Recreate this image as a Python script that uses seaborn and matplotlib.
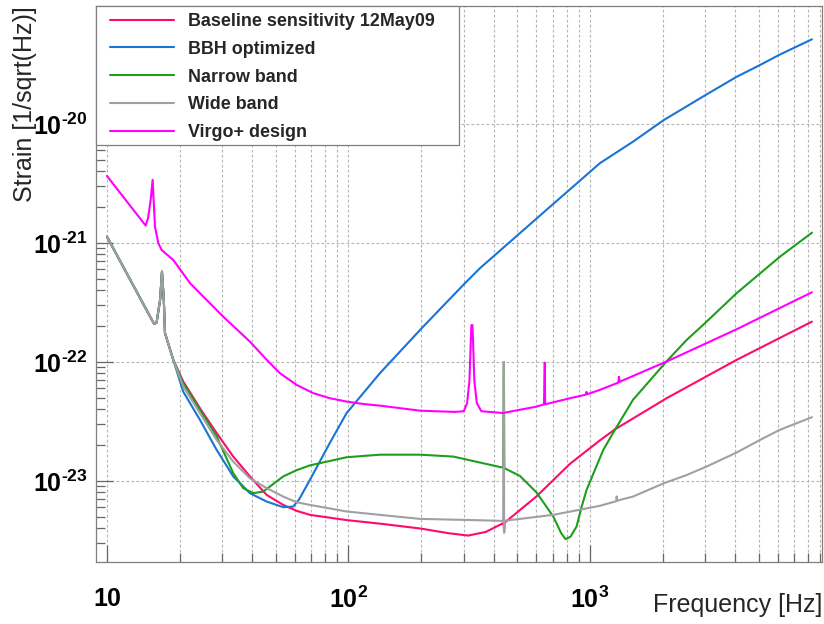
import math
import matplotlib
matplotlib.use("Agg")
import matplotlib.pyplot as plt
import pandas as pd
import seaborn as sns
from matplotlib.patches import Rectangle
from matplotlib.ticker import FixedLocator, NullFormatter, FuncFormatter

# Low-frequency seismic wall shared by the four measured configurations
wall_f = [10, 15.2, 15.7, 16.05, 16.6, 16.9, 17.2, 17.39, 18.82]
wall_h = [1.13e-21, 2.34e-22, 2.08e-22, 2.14e-22, 3.32e-22, 5.74e-22,
          3.32e-22, 1.75e-22, 1.04e-22]

baseline_f = [20.7, 24.27, 28.47, 33.34, 39.09, 45.85, 53.7, 61, 69.27, 98.3, 135,
              198, 260, 313, 370, 437, 439, 441, 443, 601, 826, 1099, 1269, 2075,
              4046, 8300]
baseline_h = [6.84e-23, 4.08e-23, 2.52e-23, 1.60e-23, 1.09e-23, 7.62e-24, 6.28e-24,
              5.6e-24, 5.18e-24, 4.68e-24, 4.37e-24, 3.98e-24, 3.63e-24, 3.47e-24,
              3.72e-24, 4.41e-24, 4.42e-24, 3.7e-24, 4.45e-24, 7.41e-24, 1.39e-23,
              2.19e-23, 2.71e-23, 4.95e-23, 1.04e-22, 2.18e-22]

bbh_f = [20.7, 24.27, 28.47, 33.34, 39.09, 45.85, 53.7, 59.07, 62.5, 69.27, 83.8,
         98.3, 135, 201, 299, 350, 621, 1099, 1507, 2023, 3051, 4046, 5058, 6062, 8300]
bbh_h = [5.62e-23, 3.26e-23, 1.82e-23, 1.09e-23, 7.88e-24, 6.70e-24, 6.01e-24,
         6.08e-24, 7.0e-24, 1.02e-23, 2.09e-23, 3.72e-23, 8.04e-23, 1.92e-22,
         4.44e-22, 6.12e-22, 1.70e-21, 4.68e-21, 7.10e-21, 1.08e-20, 1.78e-20,
         2.49e-20, 3.13e-20, 3.80e-20, 5.15e-20]

narrow_f = [20.7, 24.27, 28.47, 33.34, 36.68, 40.35, 44.38, 53.7, 61, 69.27, 98.3,
            135, 198, 272, 437, 440, 442, 513, 601, 705, 760, 792, 830, 880, 920,
            968, 1135, 1269, 1507, 2075, 2514, 3041, 4046, 6120, 8300]
narrow_h = [6.63e-23, 3.95e-23, 2.36e-23, 1.16e-23, 8.69e-24, 7.88e-24, 8.13e-24,
            1.09e-23, 1.23e-23, 1.35e-23, 1.58e-23, 1.66e-23, 1.66e-23, 1.60e-23,
            1.29e-23, 1.0e-22, 1.28e-23, 1.10e-23, 7.98e-24, 5.01e-24, 3.63e-24,
            3.24e-24, 3.39e-24, 4.13e-24, 5.89e-24, 8.39e-24, 1.82e-23, 2.69e-23,
            4.80e-23, 1.01e-22, 1.53e-22, 2.18e-22, 3.78e-22, 7.67e-22, 1.22e-21]

wide_f = [20.7, 24.27, 28.47, 33.34, 39.09, 45.85, 53.7, 61, 69.27, 98.3, 135, 198,
          300, 437, 440, 441, 443, 705, 1099, 1285, 1290, 1295, 1331, 1507, 2023,
          2514, 3041, 4046, 5060, 6120, 8300]
wide_h = [6.21e-23, 3.71e-23, 2.21e-23, 1.45e-23, 1.05e-23, 8.69e-24, 7.38e-24,
          6.61e-24, 6.28e-24, 5.53e-24, 5.18e-24, 4.79e-24, 4.70e-24, 4.61e-24,
          1.0e-22, 3.66e-24, 4.62e-24, 5.18e-24, 6.17e-24, 6.75e-24, 7.4e-24,
          6.78e-24, 6.92e-24, 7.38e-24, 9.55e-24, 1.12e-23, 1.32e-23, 1.73e-23,
          2.21e-23, 2.69e-23, 3.43e-23]

virgo_f = [10, 14.46, 14.8, 15.17, 15.46, 15.81, 16.31, 16.84, 18.82, 22.1, 30.3,
           39.1, 45.9, 52.0, 61.0, 71.5, 83.8, 98.3, 115, 135, 198, 276, 300, 310,
           317, 321, 323, 326, 328, 332, 340, 355, 436, 601, 645, 650, 652, 826,
           960, 968, 975, 1099, 1310, 1318, 1325, 2104, 4046, 8300]
virgo_h = [3.66e-21, 1.40e-21, 1.61e-21, 2.30e-21, 3.39e-21, 1.37e-21, 1.0e-21,
           8.73e-22, 7.19e-22, 4.58e-22, 2.40e-22, 1.48e-22, 1.04e-22, 8.04e-23,
           6.41e-23, 5.46e-23, 4.95e-23, 4.64e-23, 4.43e-23, 4.29e-23, 3.89e-23,
           3.80e-23, 3.85e-23, 4.5e-23, 7.0e-23, 1.5e-22, 2.04e-22, 2.04e-22,
           1.5e-22, 7.0e-23, 4.5e-23, 3.85e-23, 3.72e-23, 4.21e-23, 4.4e-23,
           9.86e-23, 4.4e-23, 4.95e-23, 5.3e-23, 5.6e-23, 5.35e-23, 5.82e-23,
           6.7e-23, 7.5e-23, 6.8e-23, 1.02e-22, 1.88e-22, 3.85e-22]

names = ["Baseline sensitivity 12May09", "BBH optimized", "Narrow band",
         "Wide band", "Virgo+ design"]
colors = ["#ff0a6a", "#1a74d2", "#1d9e1d", "#a0a0a0", "#ff00ff"]

series = {
    names[0]: (wall_f + baseline_f, wall_h + baseline_h),
    names[1]: (wall_f + bbh_f, wall_h + bbh_h),
    names[2]: (wall_f + narrow_f, wall_h + narrow_h),
    names[3]: (wall_f + wide_f, wall_h + wide_h),
    names[4]: (virgo_f, virgo_h),
}
df = pd.concat(
    [pd.DataFrame({"freq": f, "strain": h, "curve": n}) for n, (f, h) in series.items()],
    ignore_index=True,
)

sns.set_theme(style="white")
plt.rcParams["font.family"] = ["Liberation Sans", "DejaVu Sans"]
plt.rcParams["mathtext.fontset"] = "custom"
plt.rcParams["mathtext.rm"] = "Liberation Sans:bold"
plt.rcParams["mathtext.bf"] = "Liberation Sans:bold"
plt.rcParams["mathtext.it"] = "Liberation Sans:bold"

W, H = 824, 624
fig = plt.figure(figsize=(W / 100, H / 100), dpi=100)
x0, x1, y0, y1 = 96, 822, 6, 562
ax = fig.add_axes([x0 / W, 1 - y1 / H, (x1 - x0) / W, (y1 - y0) / H])
ax.set_xscale("log")
ax.set_yscale("log")

sns.lineplot(data=df, x="freq", y="strain", hue="curve", palette=dict(zip(names, colors)),
             hue_order=names, estimator=None, sort=False, linewidth=1.5, ax=ax)

ax.set_xlim(9.01, 9134)
ax.set_ylim(2.08e-24, 9.81e-20)

grid_kw = dict(color="#b4b4b4", linestyle=(0, (2.5, 2)), linewidth=0.8)
ax.xaxis.set_major_locator(FixedLocator([10, 100, 1000]))
ax.xaxis.set_minor_locator(FixedLocator([m * d for d in (10, 100, 1000) for m in range(2, 10)]))
ax.yaxis.set_major_locator(FixedLocator([1e-23, 1e-22, 1e-21, 1e-20]))
ax.yaxis.set_minor_locator(FixedLocator([m * d for d in (1e-24, 1e-23, 1e-22, 1e-21, 1e-20)
                                         for m in range(2, 10)]))
ax.grid(True, which="major", axis="both", **grid_kw)
ax.grid(True, which="minor", axis="x", **grid_kw)
ax.set_axisbelow(True)

xlab = {10: "10", 100: r"$\mathbf{10^{2}}$", 1000: r"$\mathbf{10^{3}}$"}
ax.xaxis.set_major_formatter(FuncFormatter(lambda v, p: xlab.get(int(round(v)), "")))
ax.yaxis.set_major_formatter(FuncFormatter(
    lambda v, p: "$\\mathbf{10^{\u2010%d}}$" % abs(round(math.log10(v)))))
ax.xaxis.set_minor_formatter(NullFormatter())
ax.yaxis.set_minor_formatter(NullFormatter())

ax.tick_params(which="both", direction="in", top=False, right=False, bottom=True, left=True,
               colors="#666666", labelcolor="black")
ax.tick_params(which="major", length=12, width=0.9, labelsize=18)
ax.tick_params(which="minor", length=6.5, width=0.9)
ax.tick_params(axis="x", which="major", pad=18)
ax.tick_params(axis="y", which="major", pad=6)
for t in ax.get_xticklabels() + ax.get_yticklabels():
    t.set_fontweight("bold")

for s in ax.spines.values():
    s.set_color("#7f7f7f")
    s.set_linewidth(0.9)

ax.set_xlabel("Frequency [Hz]", fontsize=18)
ax.xaxis.label.set_ha("right")
ax.xaxis.label.set_va("baseline")
ax.xaxis.set_label_coords(1.0, (y1 - 612) / (y1 - y0))
ax.set_ylabel("Strain [1/sqrt(Hz)]", fontsize=18)
ax.yaxis.label.set_rotation_mode("default")
ax.yaxis.label.set_ha("center")
ax.yaxis.label.set_va("top")
ax.yaxis.set_label_coords((25 - x0) / (x1 - x0), 1.0)


def ax_x(px):
    return (px - x0) / (x1 - x0)


def ax_y(py):
    return (y1 - py) / (y1 - y0)


# legend box
box = Rectangle((ax_x(96), ax_y(145)), ax_x(459) - ax_x(96), ax_y(6) - ax_y(145),
                transform=ax.transAxes, facecolor="white", edgecolor="#7f7f7f",
                linewidth=0.9, zorder=4, clip_on=False)
ax.add_patch(box)

handles, labels = ax.get_legend_handles_labels()
leg = ax.legend(handles, labels, loc="upper left",
                bbox_to_anchor=(ax_x(110), ax_y(13)),
                borderaxespad=0, frameon=False,
                prop={"weight": "bold", "size": 12.9}, handlelength=3.55,
                handletextpad=0.8, labelspacing=0.6, borderpad=0)
leg.set_zorder(5)
for ln in leg.get_lines():
    ln.set_linewidth(1.5)

fig.savefig("out.png", dpi=100)
